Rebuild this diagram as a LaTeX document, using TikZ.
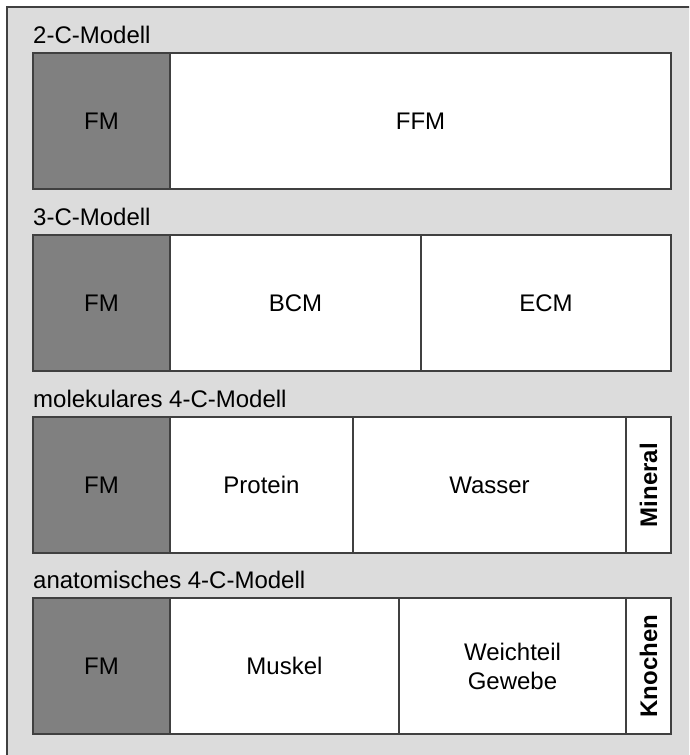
\documentclass[tikz,border=0pt]{standalone}
\usepackage{fontspec}
\setmainfont{Liberation Sans}
\definecolor{panelbg}{HTML}{DCDCDC}
\definecolor{fatgray}{HTML}{808080}
\definecolor{edgegray}{HTML}{404040}
\begin{document}
\begin{tikzpicture}[x=1pt,y=-1pt,
  cell/.style={draw=edgegray, line width=1.1pt, fill=white, inner sep=0pt, outer sep=0pt,
    minimum height=136pt, font=\fontsize{24}{29}\selectfont, align=center},
  fat/.style={cell, fill=fatgray},
  vertlabel/.style={rotate=90, inner sep=0pt, font=\fontsize{24}{29}\selectfont\bfseries},
  modeltitle/.style={anchor=base west, inner sep=0pt, font=\fontsize{24}{29}\selectfont}
]
\clip (0,0) rectangle (689,755);
% panel background with its left and top frame lines
\draw[edgegray, line width=1.5pt, fill=panelbg] (7,7) rectangle (720,790);

% 2-compartment model
\node[modeltitle] (t1) at (33,43) {2-C-Modell};
\node[fat,  minimum width=137pt] (m1fm)  at (101.5,121) {FM};
\node[cell, minimum width=501pt] (m1ffm) at (420.5,121) {FFM};

% 3-compartment model
\node[modeltitle] (t2) at (33,225) {3-C-Modell};
\node[fat,  minimum width=137pt] (m2fm)  at (101.5,303) {FM};
\node[cell, minimum width=251pt] (m2bcm) at (295.5,303) {BCM};
\node[cell, minimum width=250pt] (m2ecm) at (546,303) {ECM};

% molecular 4-compartment model
\node[modeltitle] (t3) at (33,407) {molekulares 4-C-Modell};
\node[fat,  minimum width=137pt] (m3fm)  at (101.5,485) {FM};
\node[cell, minimum width=183pt] (m3pro) at (261.5,485) {Protein};
\node[cell, minimum width=273pt] (m3wat) at (489.5,485) {Wasser};
\node[cell, minimum width=45pt]  (m3min) at (648.5,485) {};
\node[vertlabel] (m3minlbl) at (m3min.center) {Mineral};

% anatomical 4-compartment model
\node[modeltitle] (t4) at (33,588) {anatomisches 4-C-Modell};
\node[fat,  minimum width=137pt] (m4fm)  at (101.5,666) {FM};
\node[cell, minimum width=229pt] (m4mus) at (284.5,666) {Muskel};
\node[cell, minimum width=227pt] (m4wg)  at (512.5,666) {Weichteil\\Gewebe};
\node[cell, minimum width=45pt]  (m4kn)  at (648.5,666) {};
\node[vertlabel] (m4knlbl) at (m4kn.center) {Knochen};
\end{tikzpicture}
\end{document}
